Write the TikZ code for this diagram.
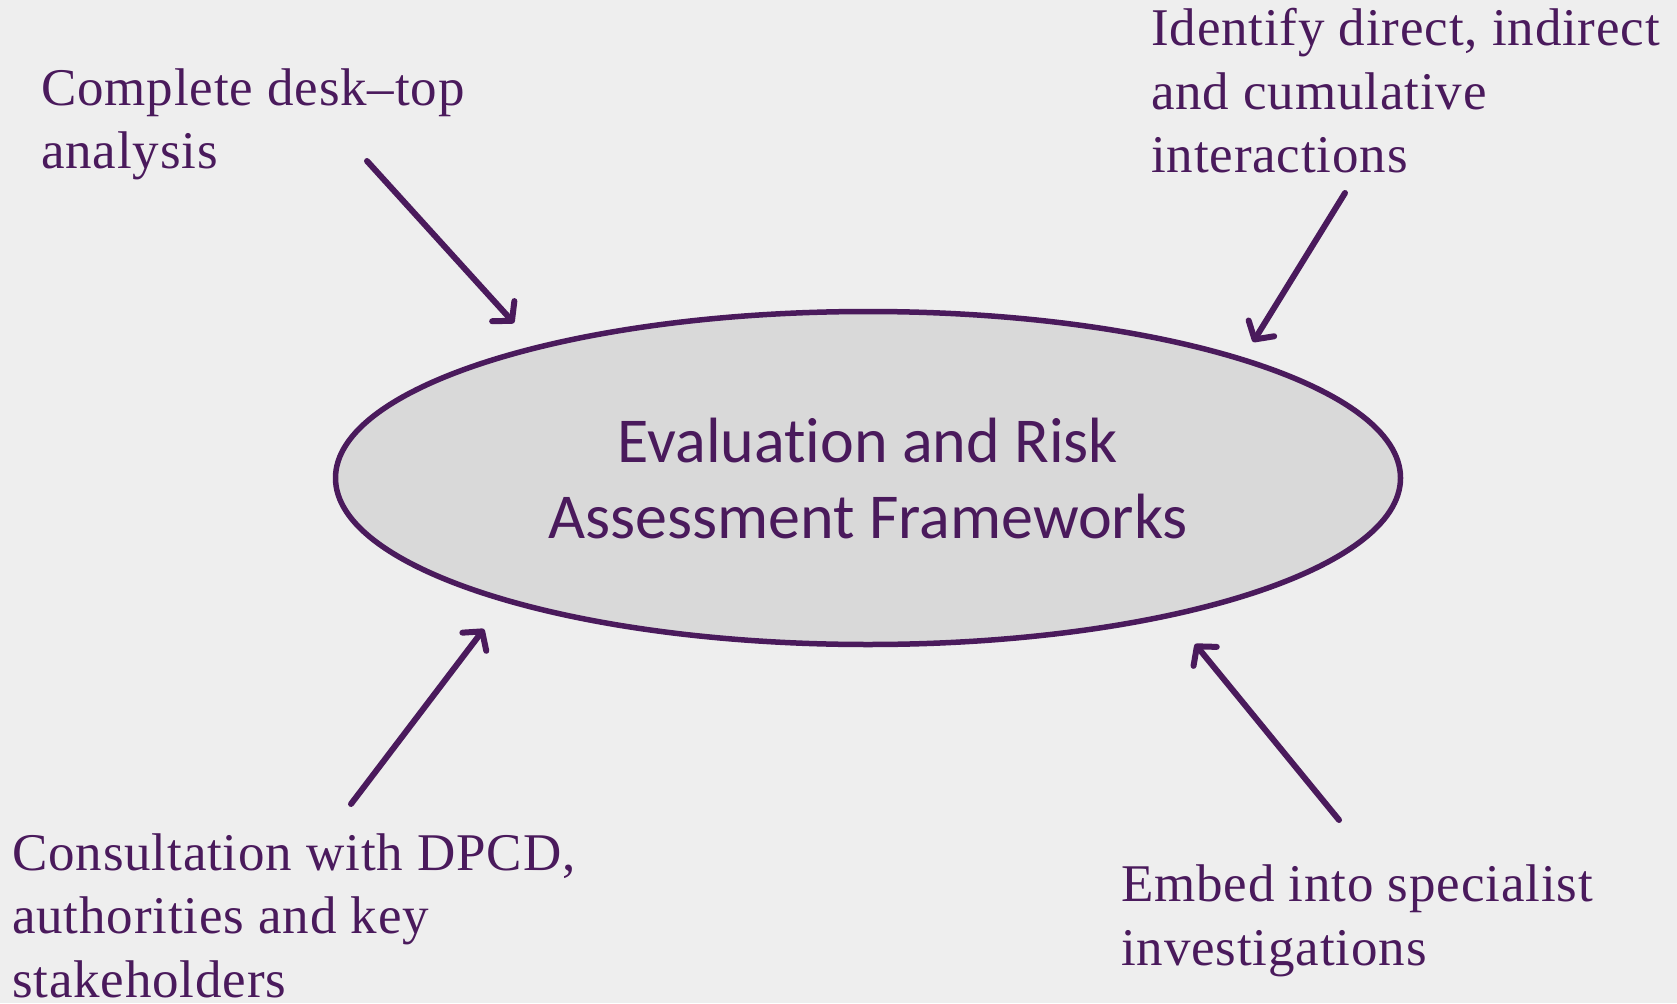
\documentclass[tikz,border=0pt]{standalone}
\usepackage{fontspec}
\setmainfont[LetterSpace=1.6]{Liberation Serif}
\newfontfamily\centerfont[Ligatures=NoCommon]{Carlito}
\usetikzlibrary{arrows.meta,shapes.geometric}
\definecolor{bgc}{HTML}{EEEEEE}
\definecolor{ellfill}{HTML}{D9D9D9}
\definecolor{purp}{HTML}{4A1A5C}
\tikzset{
  lbl/.style={anchor=base west, align=left, inner sep=0pt, text=purp,
    font=\fontsize{53}{63.5}\selectfont},
  arr/.style={draw=purp, line width=6pt, line cap=round,
    -{Straight Barb[length=13pt,width=30pt,line cap=round,line join=round]}},
}
\begin{document}
\begin{tikzpicture}[x=1pt,y=-1pt]
\fill[bgc] (0,0) rectangle (1677,1003);
\useasboundingbox (0,0) rectangle (1677,1003);
\node[ellipse, draw=purp, fill=ellfill, line width=5.5pt, minimum width=1065pt, minimum height=333pt, inner sep=0pt] (ell) at (868,478) {};
\node[align=center, text=purp, inner sep=0pt, font=\centerfont\fontsize{64}{76}\selectfont, anchor=base] (ctext) at (868,538) {Evaluation and Risk\\Assessment Frameworks};
\node[lbl] (desk) at (41,169) {Complete desk--top\\analysis};
\node[lbl] (ident) at (1151,173) {Identify direct, indirect\\and cumulative\\interactions};
\node[lbl] (consult) at (12,997) {Consultation with DPCD,\\authorities and key\\stakeholders};
\node[lbl] (embed) at (1121,965) {Embed into specialist\\investigations};
\coordinate (a1s) at (367,161); \coordinate (a1e) at (514,323);
\coordinate (a2s) at (1345,193); \coordinate (a2e) at (1253,342);
\coordinate (a3s) at (351,804); \coordinate (a3e) at (484,629);
\coordinate (a4s) at (1339,820); \coordinate (a4e) at (1195,644);
\draw[arr] (a1s) -- (a1e);
\draw[arr] (a2s) -- (a2e);
\draw[arr] (a3s) -- (a3e);
\draw[arr] (a4s) -- (a4e);
\end{tikzpicture}
\end{document}
